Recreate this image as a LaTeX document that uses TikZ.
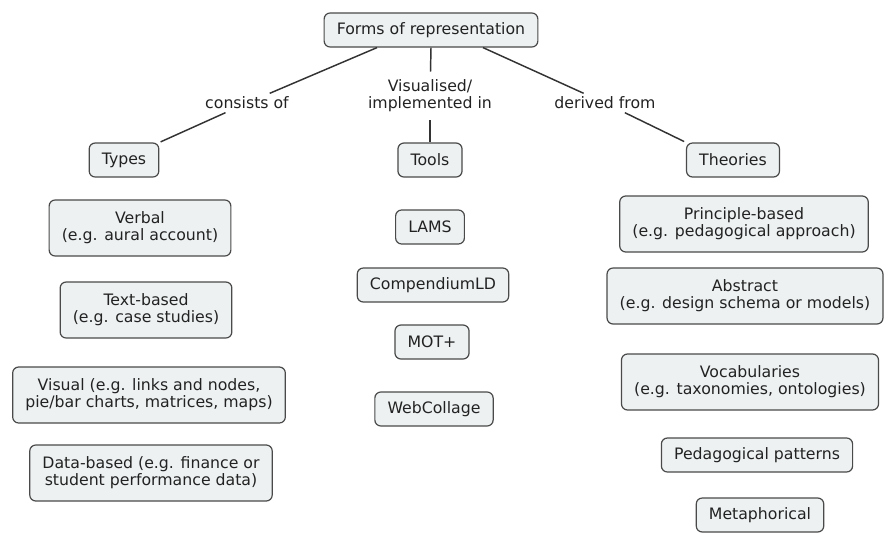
\documentclass[tikz,border=0pt]{standalone}
\usepackage{fontspec}
\setmainfont{DejaVu Sans}
\definecolor{boxfill}{HTML}{EDF1F2}
\definecolor{boxline}{HTML}{4A4A4A}
\definecolor{inkc}{HTML}{222222}
\definecolor{linkc}{HTML}{333333}
\begin{document}
\begin{tikzpicture}[x=0.75pt,y=-0.75pt,
  concept/.style={draw=boxline, fill=boxfill, rounded corners=4.5pt, line width=0.9pt,
    text=inkc, font=\fontsize{11.8}{12.8}\selectfont, align=center,
    inner xsep=9.5pt, inner ysep=2pt, minimum height=25.5pt},
  twoline/.style={concept, minimum height=42pt},
  linklabel/.style={text=inkc, font=\fontsize{11.8}{12.8}\selectfont, align=center, inner sep=2.5pt},
  link/.style={draw=linkc, line width=1.1pt}]
\useasboundingbox (0,0) rectangle (886,533);

% root concept and the three relations
\node[concept] (forms) at (431,30) {Forms of representation};
\node[linklabel] (lblcons) at (247,103) {consists of};
\node[linklabel, inner ysep=6pt] (lblvis) at (430,96) {Visualised/\\implemented in};
\node[linklabel] (lblder) at (605,103) {derived from};

\node[concept] (types) at (124,160) {Types};
\node[concept] (tools) at (430,160) {Tools};
\node[concept] (theories) at (733,160) {Theories};

\draw[link] ([xshift=-40.5pt]forms.south) -- (lblcons);
\draw[link, shorten >=1pt] (lblcons) -- (types.north east);
\draw[link] (forms.south) -- (lblvis);
\draw[link] (lblvis) -- (tools);
\draw[link] ([xshift=39pt]forms.south) -- (lblder);
\draw[link, shorten >=1.5pt] (lblder) -- (theories.north west);

% types
\node[twoline] (verbal) at (140,228) {Verbal\\(e.g. aural account)};
\node[twoline] (textb) at (146,310) {Text-based\\(e.g. case studies)};
\node[twoline] (visual) at (149,395) {Visual (e.g. links and nodes,\\pie/bar charts, matrices, maps)};
\node[twoline] (datab) at (151,473) {Data-based (e.g. finance or\\student performance data)};

% tools
\node[concept] (lams) at (430,227) {LAMS};
\node[concept] (comp) at (433,285) {CompendiumLD};
\node[concept] (mot) at (432,342) {MOT+};
\node[concept] (webc) at (434,409) {WebCollage};

% theories
\node[twoline] (princ) at (744,224) {Principle-based\\(e.g. pedagogical approach)};
\node[twoline] (abstr) at (745,296) {Abstract\\(e.g. design schema or models)};
\node[twoline] (vocab) at (750,382) {Vocabularies\\(e.g. taxonomies, ontologies)};
\node[concept] (pedpat) at (757,455) {Pedagogical patterns};
\node[concept] (metaph) at (760,515) {Metaphorical};
\end{tikzpicture}
\end{document}
